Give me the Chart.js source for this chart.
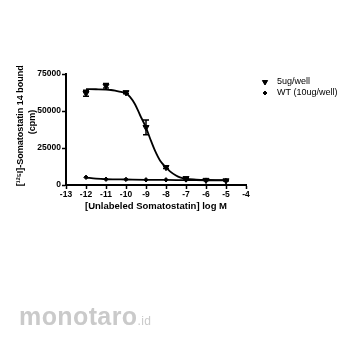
<!DOCTYPE html>
<html>
<head>
<meta charset="utf-8">
<script src="https://cdn.jsdelivr.net/npm/chart.js@4/dist/chart.umd.min.js"></script>
<style>
  html, body { margin: 0; padding: 0; background: #fff; }
  #wrap { position: relative; width: 350px; height: 350px; }
  #mark { position: absolute; left: 19px; top: 302px; font-family: "Liberation Sans", Arial, sans-serif;
          font-weight: bold; font-size: 25px; color: #cacaca; letter-spacing: 0.4px; }
  #mark span { font-size: 12px; font-weight: normal; }
</style>
</head>
<body>
<div id="wrap">
  <canvas id="c" width="350" height="350"></canvas>
  <div id="mark">monotaro<span>.id</span></div>
</div>
<script>
const seriesNames = ["5ug/well", "WT (10ug/well)"];
const logDose = [-12, -11, -10, -9, -8, -7, -6, -5];
const bound5ug = [62000, 67000, 62500, 39000, 12000, 4500, 3300, 3000];
const err5ug = [2000, 1500, 800, 5000, 800, 500, 300, 300];
const boundWT = [5200, 3900, 3800, 3500, 3500, 3400, 3300, 3000];

// fitted curves
const fitX5ug = [-12, -11.5, -11, -10.75, -10.5, -10.25, -10, -9.8, -9.55, -9.3, -9, -8.8, -8.55, -8.3, -8, -7.8, -7.5, -7.3, -7, -6.5, -6, -5];
const fit5ug = [64800, 64700, 64500, 64200, 63600, 62900, 61800, 59600, 54600, 47300, 38800, 31600, 23200, 16600, 11900, 9200, 6400, 5100, 4200, 3700, 3450, 3300];
const fitXWT = [-12, -11.5, -11, -10.5, -10, -9, -8, -7, -6, -5];
const fitWT = [5000, 4300, 3900, 3800, 3700, 3500, 3400, 3300, 3200, 3100];

const xTicks = [-13, -4];
const yTicks = [0, 75000];

const pts = (xs, ys) => xs.map((x, i) => ({x: x, y: ys[i]}));

const errorBars = {
  id: 'errorBars',
  afterDatasetsDraw(chart) {
    const ctx = chart.ctx, xs = chart.scales.x, ys = chart.scales.y;
    ctx.save();
    ctx.strokeStyle = '#000';
    ctx.lineWidth = 1.5;
    logDose.forEach((d, i) => {
      const px = xs.getPixelForValue(d);
      const top = ys.getPixelForValue(bound5ug[i] + err5ug[i]);
      const bot = ys.getPixelForValue(bound5ug[i] - err5ug[i]);
      ctx.beginPath();
      ctx.moveTo(px, top); ctx.lineTo(px, bot);
      ctx.moveTo(px - 3, top); ctx.lineTo(px + 3, top);
      ctx.moveTo(px - 3, bot); ctx.lineTo(px + 3, bot);
      ctx.stroke();
    });
    ctx.restore();
  }
};

const sideLegend = {
  id: 'sideLegend',
  afterDraw(chart) {
    const ctx = chart.ctx;
    ctx.save();
    ctx.fillStyle = '#000';
    ctx.font = '9px "Liberation Sans", Arial, sans-serif';
    ctx.textBaseline = 'middle';
    const styles = [{s: 'triangle', r: 3, rot: 180}, {s: 'rectRot', r: 2, rot: 0}];
    seriesNames.forEach((name, i) => {
      const y = 82 + i * 11;
      Chart.helpers.drawPoint(ctx, {pointStyle: styles[i].s, radius: styles[i].r, rotation: styles[i].rot, borderWidth: 1}, 265, y);
      ctx.fill();
      ctx.fillText(name, 277, y);
    });
    ctx.restore();
  }
};

const axisFont = {family: '"Liberation Sans", Arial, sans-serif', size: 8.5, weight: 'bold'};

new Chart("c", {
  type: 'scatter',
  data: {
    datasets: [
      { label: seriesNames[0], data: pts(logDose, bound5ug), pointStyle: 'triangle', rotation: 180,
        pointRadius: 3.5, backgroundColor: '#000', borderColor: '#000', borderWidth: 1, showLine: false },
      { label: seriesNames[1], data: pts(logDose, boundWT), pointStyle: 'rectRot',
        pointRadius: 2.2, backgroundColor: '#000', borderColor: '#000', borderWidth: 1, showLine: false },
      { data: pts(fitX5ug, fit5ug), showLine: true, pointRadius: 0, borderColor: '#000', borderWidth: 1.8,
        cubicInterpolationMode: 'monotone' },
      { data: pts(fitXWT, fitWT), showLine: true, pointRadius: 0, borderColor: '#000', borderWidth: 1.8,
        cubicInterpolationMode: 'monotone' }
    ]
  },
  options: {
    responsive: false,
    animation: false,
    layout: { padding: { left: 0, top: 74, right: 104, bottom: 130 } },
    plugins: { legend: { display: false }, tooltip: { enabled: false } },
    scales: {
      x: {
        type: 'linear', min: xTicks[0], max: xTicks[1],
        afterFit: s => { s.height = 35; },
        border: { color: '#000', width: 2 },
        grid: { drawOnChartArea: false, drawTicks: true, tickLength: 4, tickColor: '#000', tickWidth: 1.5 },
        ticks: { stepSize: 1, color: '#000', font: axisFont, padding: 1, maxRotation: 0 },
        title: { display: true, text: '[Unlabeled Somatostatin] log M', color: '#000',
                 font: {family: '"Liberation Sans", Arial, sans-serif', size: 9.5, weight: 'bold'},
                 padding: { top: 0, bottom: 8 } }
      },
      y: {
        type: 'linear', min: yTicks[0], max: yTicks[1],
        afterFit: s => { s.width = 66; },
        border: { color: '#000', width: 2 },
        grid: { drawOnChartArea: false, drawTicks: true, tickLength: 4, tickColor: '#000', tickWidth: 1.5 },
        ticks: { stepSize: 25000, color: '#000', font: axisFont, padding: 1, callback: v => String(v) },
        title: { display: true, text: ['   [\u00B9\u00B2\u2075I]-Somatostatin 14 bound', '      (cpm)'], color: '#000',
                 font: {family: '"Liberation Sans", Arial, sans-serif', size: 9, weight: 'bold', lineHeight: 1.35},
                 padding: { top: 14, bottom: 0 } }
      }
    }
  },
  plugins: [errorBars, sideLegend]
});
</script>
</body>
</html>
